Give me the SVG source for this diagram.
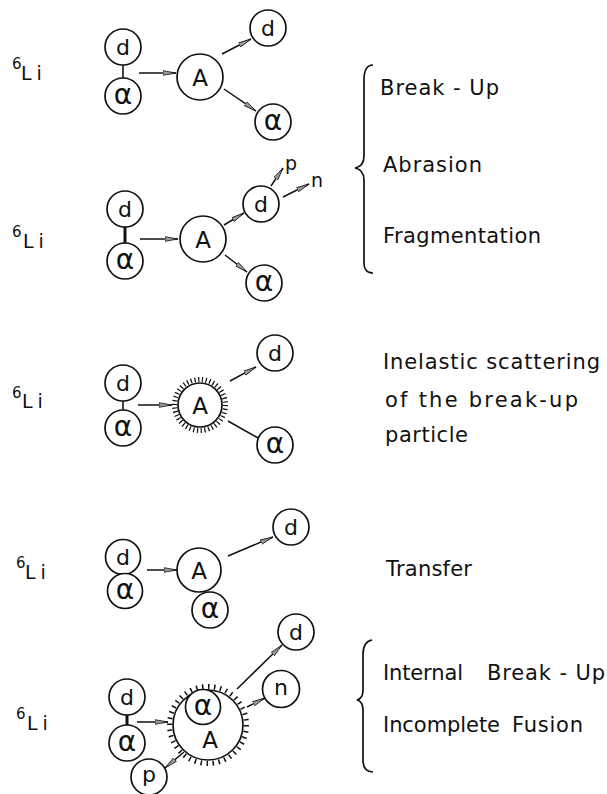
<svg xmlns="http://www.w3.org/2000/svg" width="607" height="794" viewBox="0 0 607 794">
  <defs>
    <!-- slim hollow-looking arrowhead used on every reaction arrow -->
    <marker id="head" markerUnits="userSpaceOnUse" markerWidth="15" markerHeight="8" refX="13" refY="4" orient="auto">
      <path d="M0,1.7 L13,4 L0,6.3 Z" fill="#9a9a9a" stroke="#111" stroke-width="0.8"/>
    </marker>
  </defs>
  <style>
    .c{fill:#fff;stroke:#111;stroke-width:1.7}
    .t{font-family:"DejaVu Sans","Liberation Sans",sans-serif;fill:#111;text-anchor:middle}
    .d{font-size:22px}
    .al{font-size:28px}
    .A{font-size:23px}
    .sm{font-family:"DejaVu Sans","Liberation Sans",sans-serif;font-size:19px;fill:#111}
    .lbl{font-family:"DejaVu Sans","Liberation Sans",sans-serif;font-size:21px;fill:#111}
    .li{font-family:"DejaVu Sans","Liberation Sans",sans-serif;font-size:19px;fill:#111;letter-spacing:5px}
    .sup{font-family:"DejaVu Sans","Liberation Sans",sans-serif;font-size:15px;fill:#111}
    .ln{stroke:#111;stroke-width:1.5;fill:none}
    .ar{marker-end:url(#head)}
    .bond{stroke:#111;stroke-width:1.6}
    .bond2{stroke:#111;stroke-width:3}
    .hatch{fill:none;stroke:#111;stroke-width:5}
    .brace{fill:none;stroke:#111;stroke-width:1.7}
  </style>
  <rect width="607" height="794" fill="#fff"/>

  <!-- projectile labels -->
  <g id="li-labels">
    <text class="sup" x="12" y="69">6</text><text class="li" x="21" y="80">Li</text>
    <text class="sup" x="12" y="237">6</text><text class="li" x="23" y="248">Li</text>
    <text class="sup" x="12" y="398">6</text><text class="li" x="22" y="408">Li</text>
    <text class="sup" x="16" y="568">6</text><text class="li" x="25" y="579">Li</text>
    <text class="sup" x="16" y="719">6</text><text class="li" x="27" y="730">Li</text>
  </g>

  <!-- connectors -->
  <g id="connectors">
    <!-- row 1: break-up -->
    <line class="bond" x1="123" y1="65" x2="123" y2="78"/>
    <line class="ln ar" x1="139" y1="73" x2="176" y2="73"/>
    <line class="ln ar" x1="222" y1="54" x2="251" y2="39"/>
    <line class="ln ar" x1="224" y1="89" x2="256" y2="111"/>
    <!-- row 2: fragmentation of d -->
    <line class="bond2" x1="125" y1="227" x2="125" y2="243"/>
    <line class="ln ar" x1="140" y1="239" x2="178" y2="239"/>
    <line class="ln ar" x1="224" y1="225" x2="244" y2="213"/>
    <line class="ln ar" x1="271" y1="186" x2="283" y2="168"/>
    <line class="ln ar" x1="283" y1="197" x2="309" y2="184"/>
    <line class="ln ar" x1="225" y1="255" x2="247" y2="272"/>
    <!-- row 3: inelastic scattering -->
    <line class="bond" x1="123" y1="401" x2="123" y2="410"/>
    <line class="ln ar" x1="138" y1="405" x2="172" y2="405"/>
    <line class="ln ar" x1="230" y1="381" x2="256" y2="367"/>
    <line class="ln" x1="228" y1="421" x2="258" y2="438"/>
    <!-- row 4: transfer -->
    <line class="ln ar" x1="147" y1="570" x2="177" y2="570"/>
    <line class="ln ar" x1="228" y1="556" x2="273" y2="537"/>
    <!-- row 5: internal break-up -->
    <line class="bond2" x1="127" y1="715" x2="127" y2="725"/>
    <line class="ln ar" x1="137" y1="722" x2="168" y2="722"/>
    <line class="ln ar" x1="237" y1="689" x2="282" y2="645"/>
    <line class="ln ar" x1="247" y1="707" x2="265" y2="698"/>
    <line class="ln ar" x1="184" y1="752" x2="165" y2="768"/>
  </g>

  <!-- row 1 -->
  <g id="r1-d"><circle class="c" cx="123" cy="47" r="18"/><text class="t d" x="123" y="55">d</text></g>
  <g id="r1-alpha"><circle class="c" cx="123" cy="96" r="18"/><text class="t al" x="123" y="103.5">α</text></g>
  <g id="r1-A"><circle class="c" cx="200" cy="77" r="23"/><text class="t A" x="200" y="85.5">A</text></g>
  <g id="r1-d-out"><circle class="c" cx="268" cy="28" r="18"/><text class="t d" x="268" y="36">d</text></g>
  <g id="r1-alpha-out"><circle class="c" cx="273" cy="122" r="18"/><text class="t al" x="273" y="129.5">α</text></g>

  <!-- row 2 -->
  <g id="r2-d"><circle class="c" cx="125" cy="209" r="18"/><text class="t d" x="125" y="217">d</text></g>
  <g id="r2-alpha"><circle class="c" cx="125" cy="261" r="18"/><text class="t al" x="125" y="268.5">α</text></g>
  <g id="r2-A"><circle class="c" cx="203" cy="239" r="23"/><text class="t A" x="203" y="247.5">A</text></g>
  <g id="r2-d-out"><circle class="c" cx="261" cy="204" r="18"/><text class="t d" x="261" y="212">d</text></g>
  <g id="r2-p"><text class="sm" x="285" y="170">p</text></g>
  <g id="r2-n"><text class="sm" x="311" y="187">n</text></g>
  <g id="r2-alpha-out"><circle class="c" cx="264" cy="283" r="18"/><text class="t al" x="264" y="290.5">α</text></g>

  <!-- row 3 -->
  <g id="r3-d"><circle class="c" cx="123" cy="383" r="18"/><text class="t d" x="123" y="391">d</text></g>
  <g id="r3-alpha"><circle class="c" cx="123" cy="428" r="18"/><text class="t al" x="123" y="435.5">α</text></g>
  <g id="r3-A">
    <circle class="hatch" cx="200" cy="405" r="25.5" pathLength="168" stroke-dasharray="1.3 2.7"/>
    <circle class="c" cx="200" cy="405" r="22"/><text class="t A" x="200" y="413.5">A</text>
  </g>
  <g id="r3-d-out"><circle class="c" cx="275" cy="353" r="18"/><text class="t d" x="275" y="361">d</text></g>
  <g id="r3-alpha-out"><circle class="c" cx="275" cy="445" r="18"/><text class="t al" x="275" y="452.5">α</text></g>

  <!-- row 4 -->
  <g id="r4-d"><circle class="c" cx="123" cy="557" r="17.5"/><text class="t d" x="123" y="565">d</text></g>
  <g id="r4-alpha"><circle class="c" cx="125" cy="591" r="17.5"/><text class="t al" x="125" y="598.5">α</text></g>
  <g id="r4-A"><circle class="c" cx="199" cy="570" r="22"/><text class="t A" x="199" y="578.5">A</text></g>
  <g id="r4-alpha-b"><circle class="c" cx="210" cy="610" r="18"/><text class="t al" x="210" y="617.5">α</text></g>
  <g id="r4-d-out"><circle class="c" cx="291" cy="527" r="18"/><text class="t d" x="291" y="535">d</text></g>

  <!-- row 5 -->
  <g id="r5-d"><circle class="c" cx="127" cy="697" r="18"/><text class="t d" x="127" y="705">d</text></g>
  <g id="r5-alpha"><circle class="c" cx="127" cy="743" r="18"/><text class="t al" x="127" y="750.5">α</text></g>
  <g id="r5-A">
    <circle class="hatch" cx="208" cy="725" r="38.5" stroke-width="6" pathLength="240" stroke-dasharray="1.5 4.5"/>
    <circle class="c" cx="208" cy="725" r="35"/>
    <circle class="c" cx="203" cy="707" r="17.5"/><text class="t al" x="203" y="714.5">α</text>
    <text class="t A" x="210" y="748">A</text>
  </g>
  <g id="r5-d-out"><circle class="c" cx="296" cy="632" r="18"/><text class="t d" x="296" y="640">d</text></g>
  <g id="r5-n"><circle class="c" cx="281" cy="689" r="18.5"/><text class="t d" x="281" y="695">n</text></g>
  <g id="r5-p"><circle class="c" cx="149" cy="777" r="18"/><text class="t d" x="149" y="782">p</text></g>

  <!-- process names -->
  <g id="brace-top"><path class="brace" d="M373,65 C366,65 364,71 364,80 L364,156 C364,164 360,167 355,168 C360,169 364,172 364,180 L364,262 C364,269 366,273 373,273"/></g>
  <g id="label-breakup">
    <text class="lbl" x="380" y="95" textLength="119">Break - Up</text>
    <text class="lbl" x="383" y="172" textLength="99">Abrasion</text>
    <text class="lbl" x="383" y="243" textLength="158">Fragmentation</text>
  </g>
  <g id="label-inelastic">
    <text class="lbl" x="383" y="369" textLength="217">Inelastic scattering</text>
    <text class="lbl" x="385" y="407" textLength="193">of the break-up</text>
    <text class="lbl" x="385" y="442" textLength="83">particle</text>
  </g>
  <g id="label-transfer"><text class="lbl" x="386" y="576" textLength="86">Transfer</text></g>
  <g id="brace-bottom"><path class="brace" d="M372,640 C366,641 363,647 363,655 L363,690 C363,696 361,699 357,700 C361,701 363,704 363,710 L363,760 C363,767 366,772 373,772"/></g>
  <g id="label-internal">
    <text class="lbl" x="383" y="680" textLength="80">Internal</text>
    <text class="lbl" x="487" y="680" textLength="118">Break - Up</text>
    <text class="lbl" x="383" y="732" textLength="117">Incomplete</text>
    <text class="lbl" x="512" y="732" textLength="71">Fusion</text>
  </g>
</svg>
